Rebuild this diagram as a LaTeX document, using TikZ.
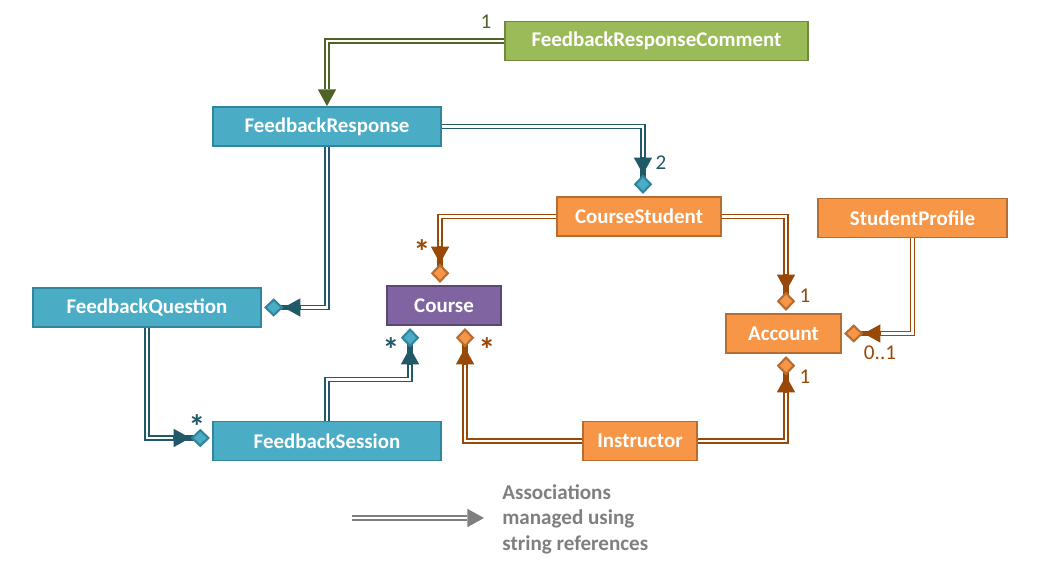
\documentclass[tikz,border=0pt]{standalone}
\usepackage{fontspec}
\setmainfont{Carlito}
\usetikzlibrary{arrows.meta,calc,positioning}

\definecolor{grnfill}{HTML}{9BBB59}
\definecolor{grnline}{HTML}{71893F}
\definecolor{grnarrow}{HTML}{4F6228}
\definecolor{bluefill}{HTML}{4BACC6}
\definecolor{blueline}{HTML}{31859C}
\definecolor{bluearrow}{HTML}{215968}
\definecolor{orgfill}{HTML}{F79646}
\definecolor{orgline}{HTML}{B66D31}
\definecolor{orgarrow}{HTML}{984807}
\definecolor{purfill}{HTML}{8064A2}
\definecolor{purline}{HTML}{5C4776}
\definecolor{legendgray}{HTML}{7F7F7F}

\begin{document}
\begin{tikzpicture}[x=0.02cm,y=-0.02cm,
    cls/.style={draw,line width=1.1pt,minimum height=0.78cm,inner sep=0pt,
      text=white,font=\fontsize{11.9}{14}\selectfont\bfseries},
    grncls/.style={cls,fill=grnfill,draw=grnline},
    bluecls/.style={cls,fill=bluefill,draw=blueline},
    orgcls/.style={cls,fill=orgfill,draw=orgline},
    purcls/.style={cls,fill=purfill,draw=purline},
    % string reference: thick coloured line with a white core
    strref/.style={line width=3pt,
      postaction={draw=white,line width=1.3pt,-,shorten >=#1}},
    strref/.default=10pt,
    mult/.style={font=\fontsize{12}{14}\selectfont,inner sep=0pt},
    star/.style={font=\fontsize{19}{20}\selectfont\bfseries,inner sep=0pt,yshift=-3.5pt},
    reftip/.tip={Triangle[length=9.5pt,width=10.5pt,line width=0pt]},
    plaintip/.style={strref=9.5pt,-{reftip[]}},
    bluetip/.style={strref=22pt,draw=bluearrow,-{reftip[sep=0.2pt] Diamond[length=11pt,width=10.5pt,line width=1.2pt,fill=bluefill,color=blueline,sep=1.2pt]}},
    orgtip/.style={strref=22pt,draw=orgarrow,-{reftip[sep=0.2pt] Diamond[length=11pt,width=10.5pt,line width=1.2pt,fill=orgfill,color=orgline,sep=1.2pt]}}]

    \useasboundingbox (0,0) rectangle (1039,567);

    % classes
    \node[grncls,minimum width=6.06cm] (frc) at (656.5,41) {FeedbackResponseComment};
    \node[bluecls,minimum width=4.56cm] (fr) at (327,126.5) {FeedbackResponse};
    \node[orgcls,minimum width=3.28cm] (cs) at (639,216.5) {CourseStudent};
    \node[orgcls,minimum width=3.78cm] (sp) at (912.5,218) {StudentProfile};
    \node[bluecls,minimum width=4.56cm] (fq) at (147,307.5) {FeedbackQuestion};
    \node[purcls,minimum width=2.28cm] (course) at (444,305.5) {Course};
    \node[orgcls,minimum width=2.3cm] (acc) at (783.5,333.5) {Account};
    \node[bluecls,minimum width=4.56cm] (fs) at (327,441) {FeedbackSession};
    \node[orgcls,minimum width=2.28cm] (ins) at (640,441) {Instructor};

    % associations
    \draw[plaintip,draw=grnarrow] (frc.west) -| (fr.north);
    \draw[bluetip] (fr.east) -| ($(cs.north)+(4,0)$);
    \draw[bluetip] (fr.south) |- (fq.east);
    \draw[bluetip] (fq.south) |- ($(fs.west)+(0,-3)$);
    \draw[bluetip] (fs.north) -- ++(0,-41) -| ($(course.south west)+(24,0)$);
    \draw[orgtip] (cs.west) -| ($(course.north west)+(54,0)$);
    \draw[orgtip] (cs.east) -| ($(acc.north)+(2.5,0)$);
    \draw[orgtip] (sp.south) |- (acc.east);
    \draw[orgtip] (ins.west) -| ($(course.south west)+(79,0)$);
    \draw[orgtip] (ins.east) -| ($(acc.south)+(2.5,0)$);

    % multiplicities
    \node[mult,text=grnarrow] at (486,22) {1};
    \node[mult,text=bluearrow] at (661,163) {2};
    \node[star,text=bluearrow] at (197,420) {*};
    \node[star,text=bluearrow] at (391,343) {*};
    \node[star,text=orgarrow] at (422,245) {*};
    \node[star,text=orgarrow] at (487,343) {*};
    \node[mult,text=orgarrow] at (805,296) {1};
    \node[mult,text=orgarrow] at (805,377) {1};
    \node[mult,text=orgarrow] at (880,353) {0..1};

    % legend
    \coordinate (lgstart) at (352,518);
    \node[anchor=west,align=left,inner sep=0pt,inner xsep=0.36cm,text=legendgray,
      font=\fontsize{12}{14.5}\selectfont\bfseries] (legend) at (484,519)
      {Associations\\managed using\\string references};
    \draw[plaintip,draw=legendgray] (lgstart) -- (lgstart -| legend.west);
\end{tikzpicture}
\end{document}
